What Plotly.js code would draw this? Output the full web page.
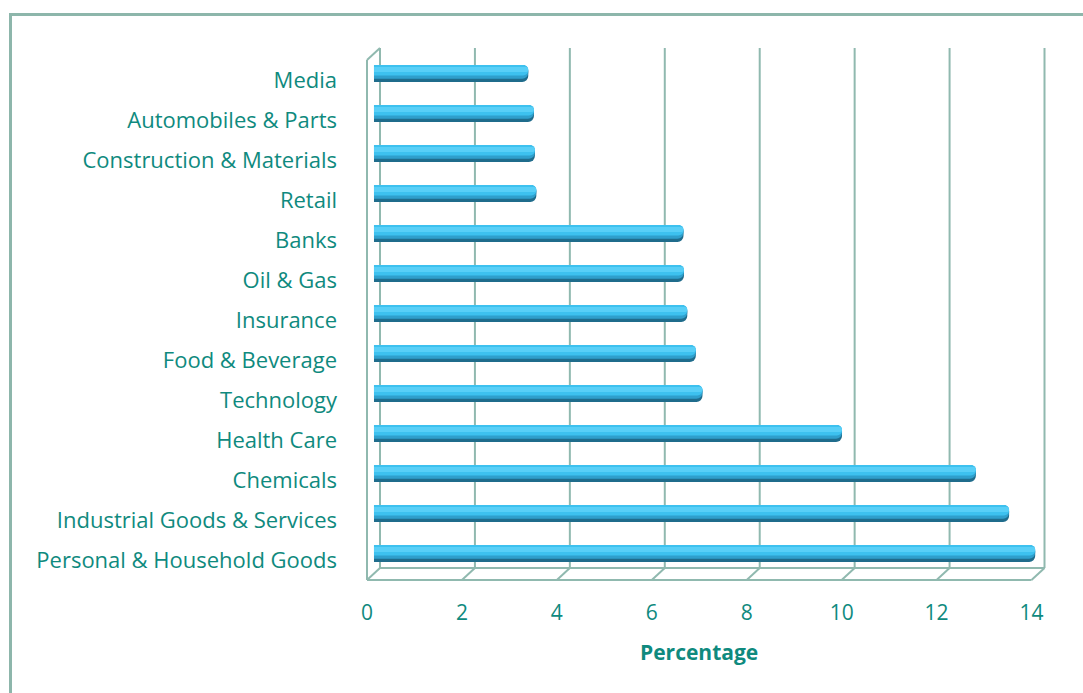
<!DOCTYPE html>
<html>
<head>
<meta charset="utf-8">
<script src="https://cdn.plot.ly/plotly-3.0.1.min.js"></script>
<style>
  html, body { margin: 0; padding: 0; background: #ffffff; overflow: hidden; }
  #frame { position: absolute; left: 9px; top: 13px; width: 1200px; height: 800px;
           border-left: 3px solid #8db6ab; border-top: 3px solid #8db6ab; }
  #chart { position: absolute; left: 0; top: 0; width: 1083px; height: 693px; }
</style>
</head>
<body>
<div id="frame"></div>
<div id="chart"></div>
<script>
// ---- data (top to bottom) ----
const categories = ["Media", "Automobiles & Parts", "Construction & Materials", "Retail",
  "Banks", "Oil & Gas", "Insurance", "Food & Beverage", "Technology", "Health Care",
  "Chemicals", "Industrial Goods & Services", "Personal & Household Goods"];
const percentages = [3.25, 3.37, 3.39, 3.42, 6.52, 6.53, 6.6, 6.78, 6.92, 9.86, 12.68, 13.38, 13.93];
const xTicks = [0, 2, 4, 6, 8, 10, 12, 14];
const xTitle = "Percentage";

// ---- geometry ----
const W = 1083, H = 693;
const pxPerUnit = 47.5;
const xMax = 14;           // last tick / axis wall
const xRangeMax = 14.6;    // extra room so bar ends are not clipped
const mL = 367, mT = 60, mB = 113;
const plotW = pxPerUnit * xRangeMax;
const mR = W - mL - plotW;
const plotH = H - mT - mB;
const nCat = categories.length;
const pxPerCat = plotH / nCat;
const depthX = 13, depthY = 12;          // 3D back-wall offset
const barShiftX = 7, barShiftY = 6.5;    // bars at mid depth
const gridColor = "#90b9af";
const textColor = "#0f8a7e";
const fontFam = "'Open Sans', sans-serif";

const dxP = depthX / plotW, dyP = depthY / plotH;
const endP = xMax / xRangeMax;
const shapes = [];
const line = (x0, y0, x1, y1) => shapes.push({type: "line", xref: "paper", yref: "paper",
  x0, y0, x1, y1, line: {color: gridColor, width: 2}, layer: "below"});
xTicks.forEach(t => {
  const f = t / xRangeMax;
  line(f + dxP, dyP, f + dxP, 1 + dyP);     // back-wall gridline
  line(f, 0, f + dxP, dyP);                 // floor diagonal
});
line(0, 0, endP, 0);                  // floor front edge
line(dxP, dyP, endP + dxP, dyP);      // floor back edge
line(0, 0, 0, 1);                     // left wall front edge
line(0, 1, dxP, 1 + dyP);             // left wall top diagonal

const barW = 0.43;
const half = barW / 2;
function layer(width, off, color) {
  return {type: "bar", orientation: "h", x: percentages, y: categories,
    xaxis: "x2", yaxis: "y2", width: width, offset: off,
    marker: {color: color, cornerradius: 6, line: {width: 0}},
    hoverinfo: "x+y", showlegend: false};
}
// invisible anchor trace so the front axes draw their labels
const anchor = {type: "scatter", mode: "markers", x: percentages, y: categories,
  xaxis: "x", yaxis: "y", marker: {opacity: 0, size: 1}, hoverinfo: "skip", showlegend: false};
const traces = [
  anchor,
  layer(barW, -half, "#1f6c8c"),
  layer(barW * 0.80, -half, "#2f9fcc"),
  layer(barW * 0.62, -half, "#3dc1ef"),
  layer(barW * 0.30, -half + barW * 0.12, "#58cff7")
];

const sx = barShiftX / pxPerUnit, sy = barShiftY / pxPerCat;
const layout = {
  width: W, height: H,
  margin: {l: mL, r: mR, t: mT, b: mB, pad: 0},
  paper_bgcolor: "rgba(0,0,0,0)", plot_bgcolor: "rgba(0,0,0,0)",
  font: {family: fontFam, color: textColor, size: 20},
  barmode: "overlay",
  xaxis: {range: [0, xRangeMax], tickvals: xTicks, ticktext: xTicks.map(String),
    showgrid: false, zeroline: false, showline: false, ticks: "",
    ticklabelstandoff: 18, tickfont: {size: 21, color: textColor, family: fontFam}},
  yaxis: {type: "category", categoryorder: "array", categoryarray: categories,
    range: [nCat - 0.5, -0.5], showgrid: false, zeroline: false, showline: false,
    ticks: "", ticklabelstandoff: 29, tickfont: {size: 22, color: textColor, family: fontFam}},
  xaxis2: {overlaying: "x", range: [-sx, xRangeMax - sx], visible: false},
  yaxis2: {overlaying: "y", type: "category", categoryorder: "array", categoryarray: categories,
    range: [nCat - 0.5 + sy, -0.5 + sy], visible: false},
  annotations: [{text: "<b>" + xTitle + "</b>", xref: "x", x: xMax / 2, yref: "paper", y: 0,
    yanchor: "middle", xanchor: "center", yshift: -72, showarrow: false,
    font: {size: 21, color: textColor, family: fontFam}}],
  shapes: shapes
};
Plotly.newPlot("chart", traces, layout, {displayModeBar: false, staticPlot: true});
</script>
</body>
</html>
